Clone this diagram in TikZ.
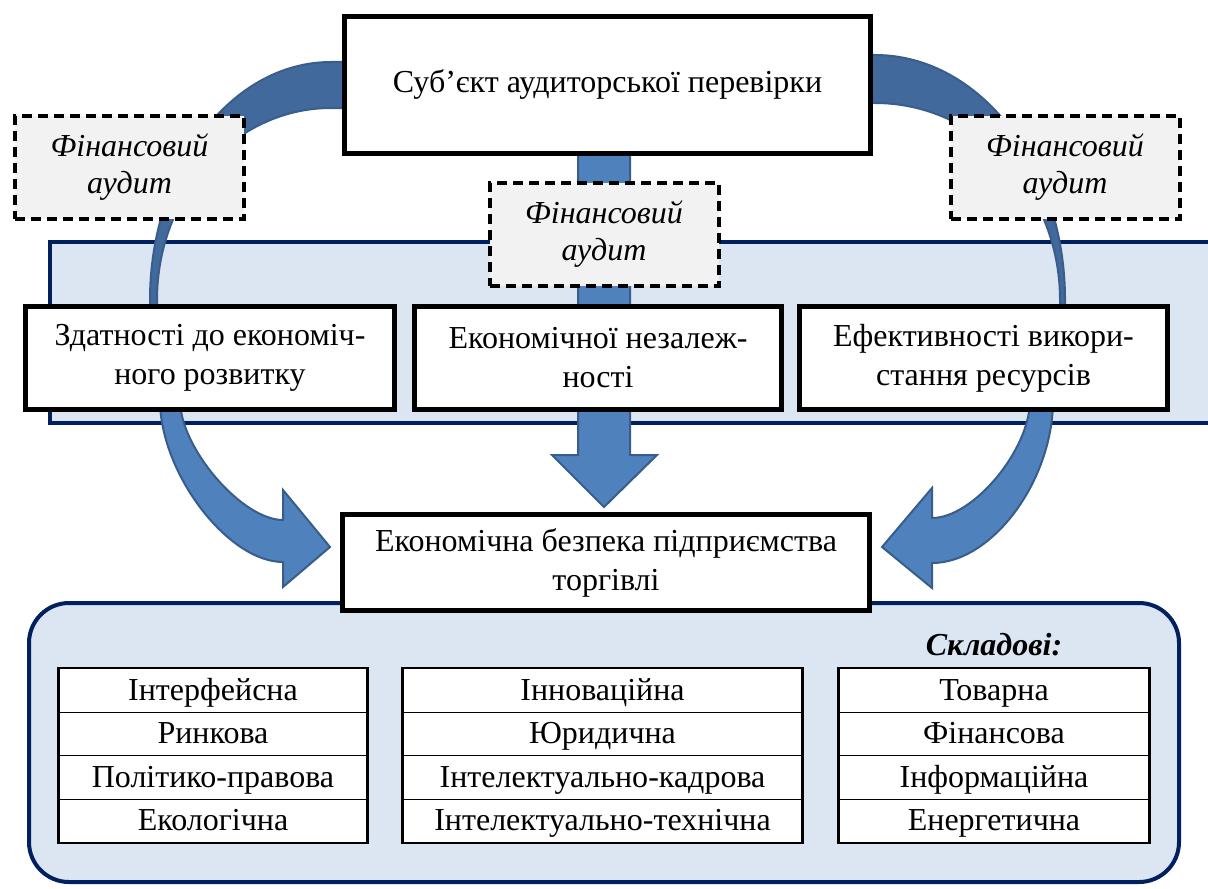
\documentclass[tikz,border=0pt]{standalone}
\usepackage{fontspec}
\setmainfont{Liberation Serif}
\definecolor{bandfill}{HTML}{DCE6F2}
\definecolor{navy}{HTML}{002060}
\definecolor{arrowfill}{HTML}{4F81BD}
\definecolor{arrowedge}{HTML}{385D8A}
\definecolor{arcfill}{HTML}{41699C}
\definecolor{arcedge}{HTML}{3A5E8C}
\definecolor{dashfill}{HTML}{F2F2F2}
\begin{document}
\begin{tikzpicture}[x=0.5pt,y=-0.5pt,
  txt/.style={font=\fontsize{16}{19.5}\selectfont, align=center},
  blackbox/.style={txt, draw=black, line width=2.5pt, fill=white, inner sep=0pt},
  dashbox/.style={draw=black, line width=2pt, dash pattern=on 5pt off 3pt, fill=dashfill, align=center, font=\fontsize{16}{18.5}\selectfont\itshape, inner sep=0pt, minimum width=114.5pt, minimum height=51.5pt},
  tcell/.style={draw=black, line width=0.6pt, fill=white, font=\fontsize{16}{19}\selectfont, inner sep=0pt, minimum height=21.75pt, text height=12pt, text depth=2.5pt},
  arrowshape/.style={fill=arrowfill, draw=arrowedge, line width=1pt, line join=miter},
  arcshape/.style={fill=arcfill, draw=arcedge, line width=1pt},
  outerframe/.style={draw=black, line width=1pt}
]
\useasboundingbox (0,0) rectangle (1208,888);
\fill[white] (0,0) rectangle (1208,888);

% light band
\fill[bandfill] (50,242) rectangle (1215,423);
\draw[navy, line width=1.75pt] (1215,242) -- (50,242) -- (50,423) -- (1215,423);

% bottom rounded area
\draw[navy, line width=2pt, fill=bandfill, rounded corners=20pt] (29,603) rectangle (1179,882);

% upper arcs
\path[arcshape] (350,62) -- (331,62) .. controls (231,62) and (150,169) .. (150,300) -- (150,320) -- (157,320) -- (157,300) .. controls (157,194) and (235,108) .. (331,108) -- (350,108) -- cycle;
\path[arcshape] (860,55) -- (875,55) .. controls (980,55) and (1065,165) .. (1065,300) -- (1065,320) -- (1060,320) -- (1060,300) .. controls (1060,191) and (977,103) .. (875,103) -- (860,103) -- cycle;

% middle arrow
\path[arrowshape] (578,150) -- (630,150) -- (630,455) -- (657,455) -- (604,507) -- (552,455) -- (578,455) -- cycle;

% lower curved arrows
\path[arrowshape] (180,400) .. controls (180,448) and (242,520) .. (283,520) -- (283,490) -- (330,547) -- (283,587) -- (283,562) .. controls (228,562) and (160,473) .. (160,400) -- cycle;
\path[arrowshape] (1030,400) .. controls (1030,450) and (973,518) .. (932,518) -- (932,488) -- (882,547) -- (932,588) -- (932,563) .. controls (992,563) and (1053,481) .. (1053,400) -- cycle;

% boxes
\node[blackbox, minimum width=263pt, minimum height=68.5pt] (subj) at (607.5,85) {Суб’єкт аудиторської перевірки};
\node[dashbox] (fa1) at (129.5,167.5) {Фінансовий\\аудит};
\node[dashbox] (fa2) at (604,234) {Фінансовий\\аудит};
\node[dashbox] (fa3) at (1065,167.5) {Фінансовий\\аудит};
\node[blackbox, minimum width=184.5pt, minimum height=51.5pt] (b1) at (210,358) {Здатності до економіч-\\ного розвитку};
\node[blackbox, minimum width=183.5pt, minimum height=51.5pt] (b2) at (598,358) {Економічної незалеж-\\ності};
\node[blackbox, minimum width=184pt, minimum height=51.5pt] (b3) at (983.5,358) {Ефективності викори-\\стання ресурсів};
\node[blackbox, minimum width=263.5pt, minimum height=48pt] (es) at (606,562.5) {Економічна безпека підприємства\\торгівлі};

\node[font=\fontsize{16}{19}\selectfont\bfseries\itshape] (skl) at (994,645) {Складові:};

% tables
\node[tcell, minimum width=154pt] (t1a) at (213,690.5) {Інтерфейсна};
\node[tcell, minimum width=154pt] (t1b) at (213,734) {Ринкова};
\node[tcell, minimum width=154pt] (t1c) at (213,777.5) {Політико-правова};
\node[tcell, minimum width=154pt] (t1d) at (213,821) {Екологічна};
\draw[outerframe] (t1a.north west) rectangle (t1d.south east);

\node[tcell, minimum width=199.5pt] (t2a) at (602.5,690.5) {Інноваційна};
\node[tcell, minimum width=199.5pt] (t2b) at (602.5,734) {Юридична};
\node[tcell, minimum width=199.5pt] (t2c) at (602.5,777.5) {Інтелектуально-кадрова};
\node[tcell, minimum width=199.5pt] (t2d) at (602.5,821) {Інтелектуально-технічна};
\draw[outerframe] (t2a.north west) rectangle (t2d.south east);

\node[tcell, minimum width=155pt] (t3a) at (994,690.5) {Товарна};
\node[tcell, minimum width=155pt] (t3b) at (994,734) {Фінансова};
\node[tcell, minimum width=155pt] (t3c) at (994,777.5) {Інформаційна};
\node[tcell, minimum width=155pt] (t3d) at (994,821) {Енергетична};
\draw[outerframe] (t3a.north west) rectangle (t3d.south east);
\end{tikzpicture}
\end{document}
